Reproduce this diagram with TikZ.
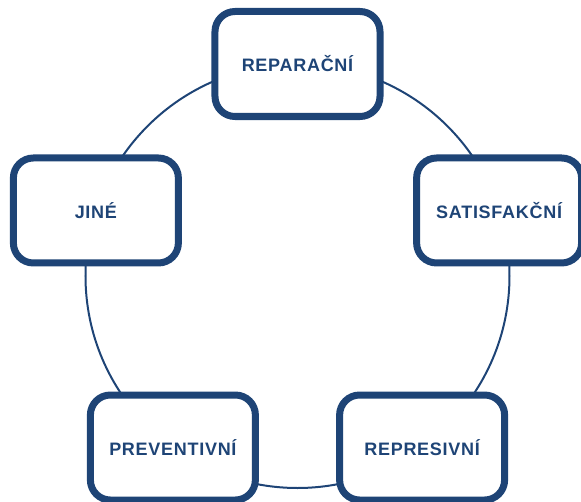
\documentclass[tikz,border=0pt]{standalone}
\usepackage{fontspec}
\setmainfont{Liberation Sans}[LetterSpace=4]
\usetikzlibrary{positioning}
\definecolor{darkblue}{RGB}{30,68,118}

\begin{document}
\begin{tikzpicture}[x=1pt,y=1pt]
	% styles for the picture
	\tikzset{
		kind/.style={draw=darkblue, line width=7pt, rounded corners=20pt, fill=white,
			minimum width=165pt, minimum height=105pt, text=darkblue,
			font=\fontsize{18}{21}\selectfont\bfseries}, % box of one kind
		ring/.style={draw=darkblue, line width=2pt}, % the circle behind the boxes
	}
	% fixes the size of the page
	\useasboundingbox (-297.5,-225) rectangle (283.5,276);
	% the circle goes first, the boxes are put on top of it
	\coordinate (mid) at (0,0);
	\draw[ring] (mid) circle (212);
	% the five boxes sit on the circle, one every 72 degrees
	\node[kind] (reparacni)   at (90:212)  {REPARAČNÍ};
	\node[kind] (satisfakcni) at (18:212)  {SATISFAKČNÍ};
	\node[kind] (represivni)  at (-54:212) {REPRESIVNÍ};
	\node[kind] (preventivni) at (234:212) {PREVENTIVNÍ};
	\node[kind] (jine)        at (162:212) {JINÉ};
\end{tikzpicture}
\end{document}
